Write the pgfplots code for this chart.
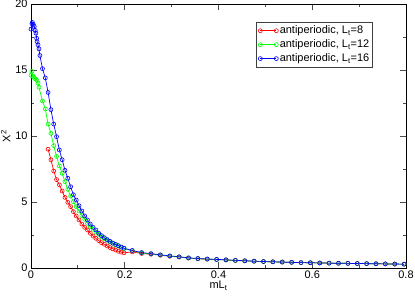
\documentclass[border=0pt]{standalone}
\usepackage{pgfplots}
\pgfplotsset{compat=1.18}
\usepackage{fontspec}
\setmainfont{Liberation Sans}
\begin{document}
\pgfplotstableread{
x y
0.0365 9.0
0.0425 8.2
0.0485 7.35
0.0545 6.7
0.0605 6.3
0.0665 5.83
0.0725 5.35
0.0785 4.97
0.0845 4.65
0.0905 4.27
0.0965 3.94
0.1025 3.64
0.1085 3.33
0.1145 3.08
0.1205 2.88
0.1265 2.63
0.1325 2.42
0.1385 2.25
0.1445 2.07
0.1505 1.92
0.1565 1.80
0.1625 1.67
0.1685 1.55
0.1745 1.45
0.1805 1.36
0.1865 1.27
0.1925 1.20
0.1985 1.15
0.216 1.22
0.236 1.10
0.256 1.04
0.276 0.97
0.296 0.89
0.316 0.83
0.336 0.75
0.356 0.70
0.376 0.67
0.396 0.64
0.416 0.61
0.436 0.57
0.456 0.54
0.476 0.51
0.496 0.49
0.516 0.47
0.536 0.45
0.556 0.43
0.576 0.41
0.596 0.40
0.616 0.38
0.636 0.37
0.656 0.36
0.676 0.35
0.696 0.34
0.716 0.33
0.736 0.32
0.756 0.31
0.776 0.30
0.796 0.29
}\red
\pgfplotstableread{
x y
0.000 14.6
0.002 14.9
0.004 14.55
0.006 14.45
0.008 14.35
0.0105 14.3
0.013 14.2
0.015 14.0
0.017 13.7
0.0245 12.65
0.0305 12.05
0.0365 10.9
0.0425 10.2
0.0485 9.27
0.0545 8.45
0.0605 7.73
0.0665 7.17
0.0725 6.54
0.0785 5.96
0.0845 5.45
0.0905 5.02
0.0965 4.65
0.1025 4.32
0.1085 3.97
0.1145 3.69
0.1205 3.38
0.1265 3.13
0.1325 2.93
0.1385 2.73
0.1445 2.55
0.1505 2.37
0.1565 2.22
0.1625 2.10
0.1685 1.97
0.1745 1.87
0.1805 1.74
0.1865 1.67
0.1925 1.57
0.1985 1.47
0.216 1.30
0.236 1.14
0.256 1.07
0.276 0.98
0.296 0.90
0.316 0.84
0.336 0.76
0.356 0.71
0.376 0.67
0.396 0.64
0.416 0.61
0.436 0.57
0.456 0.54
0.476 0.51
0.496 0.49
0.516 0.47
0.536 0.45
0.556 0.43
0.576 0.41
0.596 0.40
0.616 0.38
0.636 0.37
0.656 0.36
0.676 0.35
0.696 0.34
0.716 0.33
0.736 0.32
0.756 0.31
0.776 0.30
0.796 0.29
}\green
\pgfplotstableread{
x y
0.000 18.1
0.002 18.5
0.003 18.6
0.005 18.45
0.007 18.3
0.009 18.0
0.0105 17.8
0.012 17.4
0.013 17.15
0.015 16.9
0.017 16.6
0.019 16.1
0.0245 15.1
0.0305 14.4
0.0365 13.3
0.0425 12.0
0.0485 10.9
0.0545 9.95
0.0605 8.94
0.0665 8.2
0.0725 7.4
0.0785 6.8
0.0845 6.16
0.0905 5.55
0.0965 5.15
0.1025 4.72
0.1085 4.32
0.1145 3.94
0.1205 3.64
0.1265 3.33
0.1325 3.08
0.1385 2.88
0.1445 2.63
0.1505 2.45
0.1565 2.30
0.1625 2.15
0.1685 2.02
0.1745 1.89
0.1805 1.79
0.1865 1.69
0.1925 1.59
0.1985 1.50
0.216 1.33
0.236 1.17
0.256 1.09
0.276 1.00
0.296 0.92
0.316 0.85
0.336 0.77
0.356 0.72
0.376 0.68
0.396 0.65
0.416 0.62
0.436 0.58
0.456 0.55
0.476 0.52
0.496 0.49
0.516 0.47
0.536 0.45
0.556 0.43
0.576 0.41
0.596 0.40
0.616 0.38
0.636 0.37
0.656 0.36
0.676 0.35
0.696 0.34
0.716 0.33
0.736 0.32
0.756 0.31
0.776 0.30
0.796 0.29
}\blue
\begin{tikzpicture}
\begin{axis}[
  scale only axis,
  width=375bp, height=264bp,
  xmin=0, xmax=0.8, ymin=0, ymax=20,
  xtick={0,0.2,0.4,0.6,0.8},
  xticklabels={0,0.2,0.4,0.6,0.8},
  ytick={0,5,10,15,20},
  minor xtick={0.1,0.3,0.5,0.7},
  minor ytick={2.5,7.5,12.5,17.5},
  tick align=inside,
  major tick length=6bp,
  minor tick length=3bp,
  tick style={black!70, line width=0.8pt},
  axis line style={line width=0.8pt},
  /pgf/number format/assume math mode=true,
  ticklabel style={font=\fontsize{11}{12}\selectfont},
  xticklabel style={yshift=1bp},
  xlabel={mL\textsubscript{t}},
  ylabel={X\textsuperscript{2}},
  label style={font=\fontsize{11}{12}\selectfont},
  xlabel style={yshift=4bp},
  ylabel style={yshift=-2bp},
  legend style={at={(0.600,0.931)}, anchor=north west, draw=black!75, line width=0.6pt,
    font=\fontsize{11}{12}\selectfont, row sep=1.5bp, inner sep=2bp,
    nodes={inner sep=1.5bp}},
  legend cell align=left,
  legend image code/.code={\draw[#1] plot coordinates {(0bp,0bp) (16bp,0bp)};},
  every axis plot/.append style={line width=0.7pt, mark=o, mark size=2bp, mark options={line width=0.6pt}},
]
\addplot[red] table[x=x,y=y]{\red};
\addlegendentry{antiperiodic, L\textsubscript{t}=8}
\addplot[green] table[x=x,y=y]{\green};
\addlegendentry{antiperiodic, L\textsubscript{t}=12}
\addplot[blue] table[x=x,y=y]{\blue};
\addlegendentry{antiperiodic, L\textsubscript{t}=16}
\end{axis}
\pgfresetboundingbox
\path ([shift={(-31bp,-28bp)}]current axis.south west) rectangle ([shift={(9bp,4bp)}]current axis.north east);
\end{tikzpicture}
\end{document}
